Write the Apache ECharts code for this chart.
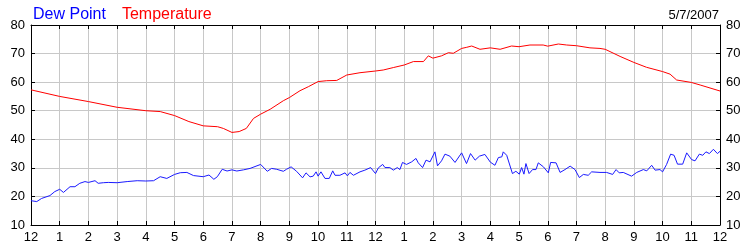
<!DOCTYPE html>
<html><head><meta charset="utf-8">
<script src="https://cdn.jsdelivr.net/npm/echarts@6/dist/echarts.min.js"></script>
<style>html,body{margin:0;padding:0;background:#fff}#c{width:750px;height:250px}</style>
</head><body><div id="c"></div>
<script>
const hourLabels = ['12','1','2','3','4','5','6','7','8','9','10','11','12','1','2','3','4','5','6','7','8','9','10','11','12'];
const dateLabel = '5/7/2007';
const seriesNames = ['Dew Point', 'Temperature'];

const tempHours = [0,1,2,3,4,4.5,5,5.5,6,6.5,6.7,7,7.25,7.5,7.75,8,8.33,8.79,9,9.37,9.66,10,10.3,10.65,11,11.46,12,12.27,12.62,13,13.32,13.67,13.84,14,14.3,14.54,14.71,15,15.18,15.35,15.64,16,16.34,16.74,17,17.38,17.84,18,18.37,18.66,19,19.47,19.82,20,20.52,21,21.44,22,22.26,22.49,23,23.31,24];
const tempValues = [57.3,55.0,53.2,51.2,50.0,49.7,48.3,46.2,44.7,44.4,43.8,42.4,42.7,43.8,47.3,48.8,50.5,53.5,54.6,57.0,58.4,60.2,60.5,60.6,62.5,63.3,63.9,64.25,65.1,66.0,67.2,67.2,69.2,68.4,69.2,70.3,70.1,71.8,72.2,72.65,71.5,72.0,71.5,72.65,72.4,73.0,73.0,72.6,73.35,73.0,72.75,72.0,71.8,71.5,69.0,66.9,65.2,63.7,62.8,60.75,59.9,59.0,56.9];

const dewHours = [0,0.2,0.37,0.66,0.83,1,1.13,1.36,1.53,1.7,1.88,2,2.23,2.34,2.52,2.69,3,3.35,3.7,4,4.27,4.5,4.73,5,5.2,5.43,5.66,6,6.2,6.37,6.49,6.66,6.83,7,7.17,7.4,7.63,8,8.23,8.38,8.56,8.79,8.9,9.06,9.25,9.46,9.58,9.72,9.83,9.93,10,10.1,10.24,10.39,10.51,10.59,10.76,10.94,11.02,11.11,11.23,11.46,11.63,11.83,12,12.1,12.25,12.33,12.5,12.62,12.76,12.85,12.94,13.08,13.26,13.41,13.49,13.64,13.76,13.9,14.07,14.16,14.3,14.42,14.59,14.77,15,15.17,15.31,15.47,15.62,15.81,16,16.16,16.28,16.4,16.45,16.57,16.77,16.89,17.01,17.09,17.17,17.24,17.35,17.47,17.59,17.67,17.85,18.02,18.1,18.29,18.43,18.6,18.78,18.95,19.1,19.24,19.41,19.53,19.82,20.05,20.26,20.38,20.49,20.63,20.92,21.1,21.33,21.45,21.62,21.74,21.91,22,22.14,22.28,22.4,22.52,22.7,22.84,23.01,23.13,23.28,23.4,23.51,23.63,23.77,23.91,24];
const dewValues = [18.5,18.2,19.3,20.3,21.7,22.5,21.4,23.4,23.4,24.6,25.2,24.9,25.5,24.6,24.8,24.9,24.8,25.2,25.5,25.4,25.5,26.9,26.3,27.7,28.3,28.4,27.3,26.9,27.5,26.0,26.9,29.5,28.9,29.3,28.9,29.3,29.8,31.2,28.8,29.8,29.5,28.8,29.5,30.35,28.8,26.5,28.25,26.85,27.1,28.6,27.1,28.6,26.3,26.3,28.95,27.4,27.4,28.25,27.2,28.4,27.4,28.6,29.2,30.1,28.0,30.0,31.2,30.1,30.1,29.2,30.1,29.4,31.9,31.2,32.1,33.3,31.75,30.1,32.7,32.1,35.6,30.7,32.45,34.8,34.1,31.9,35.25,31.5,35.0,32.7,34.1,34.7,32.0,30.9,33.6,33.85,35.6,34.4,28.0,28.8,27.8,30.1,27.8,31.5,28.0,29.4,29.4,31.75,30.35,28.25,31.9,31.75,28.4,29.4,30.6,29.4,26.6,27.7,27.4,28.6,28.4,28.4,27.7,29.4,28.25,28.4,27.1,28.4,29.4,28.95,30.9,29.2,29.4,28.6,31.2,34.8,34.4,31.3,31.3,35.25,32.9,32.45,34.8,34.4,35.6,35.0,36.5,35.0,35.8];

const FONT = '"Liberation Sans", Arial, sans-serif';
const pair = (xs, ys) => xs.map((x, i) => [x, ys[i]]);

const chart = echarts.init(document.getElementById('c'), null, {renderer: 'canvas'});
const axisCommon = {
  axisLine: {show: true, onZero: false, lineStyle: {color: '#000', width: 1}},
  axisTick: {show: true, inside: true, length: 4, lineStyle: {color: '#000'}},
};
chart.setOption({
  animation: false,
  backgroundColor: '#fff',
  title: {
    text: dateLabel, right: 26, top: 4,
    textStyle: {fontFamily: FONT, fontSize: 13, fontWeight: 'normal', color: '#000'}
  },
  legend: {
    left: 23, top: 2, icon: 'rect', itemWidth: 0, itemHeight: 0, itemGap: 11,
    selectedMode: false,
    data: [
      {name: seriesNames[0], textStyle: {color: '#0000ff'}},
      {name: seriesNames[1], textStyle: {color: '#ff0000'}}
    ],
    textStyle: {fontFamily: FONT, fontSize: 16}
  },
  grid: {left: 31, right: 30, top: 25, bottom: 25, containLabel: false},
  xAxis: [
    Object.assign({}, axisCommon, {
      type: 'value', position: 'bottom', min: 0, max: 24, interval: 1,
      splitLine: {show: true, lineStyle: {color: '#c8c8c8', width: 1}},
      axisLabel: {margin: 6, fontFamily: FONT, fontSize: 13, color: '#000',
        formatter: v => hourLabels[Math.round(v)]}
    }),
    Object.assign({}, axisCommon, {
      type: 'value', position: 'top', min: 0, max: 24, interval: 1,
      splitLine: {show: false}, axisLabel: {show: false}
    })
  ],
  yAxis: [
    Object.assign({}, axisCommon, {
      type: 'value', position: 'left', min: 10, max: 80, interval: 10,
      splitLine: {show: true, lineStyle: {color: '#c8c8c8', width: 1}},
      axisLabel: {margin: 6, fontFamily: FONT, fontSize: 13, color: '#000'}
    }),
    Object.assign({}, axisCommon, {
      type: 'value', position: 'right', min: 10, max: 80, interval: 10,
      splitLine: {show: false},
      axisLabel: {margin: 6, fontFamily: FONT, fontSize: 13, color: '#000'}
    })
  ],
  series: [
    {name: seriesNames[0], type: 'line', xAxisIndex: 0, yAxisIndex: 0, data: pair(dewHours, dewValues),
      showSymbol: false, symbol: 'none', lineStyle: {color: '#1a1aff', width: 1}, itemStyle: {color: '#0000ff'}},
    {name: seriesNames[1], type: 'line', xAxisIndex: 0, yAxisIndex: 0, data: pair(tempHours, tempValues),
      showSymbol: false, symbol: 'none', lineStyle: {color: '#ff0000', width: 1}, itemStyle: {color: '#ff0000'}}
  ]
});
</script>
</body></html>
